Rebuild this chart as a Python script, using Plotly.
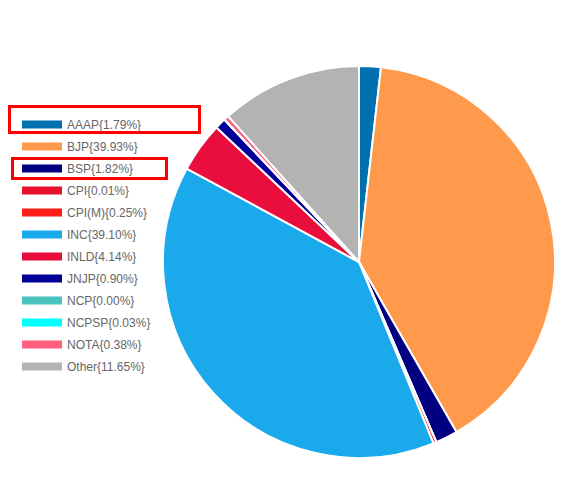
import plotly.graph_objects as go

parties = ["AAAP", "BJP", "BSP", "CPI", "CPI(M)", "INC", "INLD", "JNJP",
           "NCP", "NCPSP", "NOTA", "Other"]
shares = [1.79, 39.93, 1.82, 0.01, 0.25, 39.10, 4.14, 0.90, 0.00, 0.03, 0.38, 11.65]
colors = ["#0070AE", "#FF994C", "#000080", "#E8112D", "#FF1D15", "#1AA9EB",
          "#EA0E3C", "#000099", "#4AC2BE", "#00FFFF", "#FF5E7E", "#B3B3B3"]
labels = [f"{p}{{{s:.2f}%}}" for p, s in zip(parties, shares)]
highlighted = ["AAAP", "BSP"]

W, H = 562, 477
OFF = 8  # page body margin

fig = go.Figure()
fig.add_trace(go.Pie(
    labels=labels, values=shares, sort=False, direction="clockwise",
    rotation=0, textinfo="none", showlegend=False,
    marker=dict(colors=colors, line=dict(color="white", width=2)),
    domain=dict(x=[(359 - OFF - 196) / W, (359 - OFF + 196) / W],
                y=[(H - (458 - OFF)) / H, (H - (66 - OFF)) / H]),
))
for lab, col in zip(labels, colors):
    fig.add_trace(go.Scatter(
        x=[None], y=[None], mode="lines", name=lab, legendgroup=lab,
        line=dict(color=col, width=8), showlegend=True,
    ))

# red highlight boxes around legend entries (page pixel -> paper)
boxes = [(9.5, 106.5, 199.5, 132.5), (12.5, 158.5, 166.5, 178.5)]
for x0, y0, x1, y1 in boxes:
    fig.add_shape(type="rect", xref="paper", yref="paper",
                  x0=(x0 - OFF) / W, x1=(x1 - OFF) / W,
                  y0=1 - (y0 - OFF) / H, y1=1 - (y1 - OFF) / H,
                  line=dict(color="#FF0000", width=3))

fig.update_layout(
    width=W, height=H, margin=dict(l=0, r=0, t=0, b=0),
    paper_bgcolor="white", plot_bgcolor="white",
    xaxis=dict(visible=False), yaxis=dict(visible=False),
    legend=dict(x=(17 - OFF) / W, y=1 - (110 - OFF) / H, xanchor="left", yanchor="top",
                font=dict(family="Liberation Sans, Arial", size=12, color="#666666"),
                itemwidth=40, tracegroupgap=3, traceorder="grouped",
                bgcolor="rgba(0,0,0,0)"),
)
fig.write_html("out.html")
